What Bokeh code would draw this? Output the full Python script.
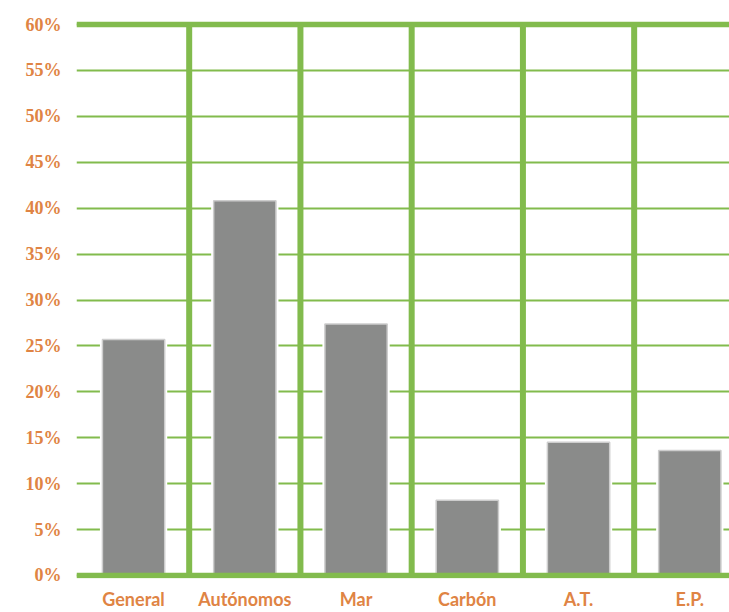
from bokeh.plotting import figure
from bokeh.models import Range1d, FixedTicker, Span, ColumnDataSource
from bokeh.embed import file_html
from bokeh.resources import INLINE

categories = ["General", "Autónomos", "Mar", "Carbón", "A.T.", "E.P."]
values = [25.7, 40.8, 27.4, 8.2, 14.5, 13.6]
y_ticks = [0, 5, 10, 15, 20, 25, 30, 35, 40, 45, 50, 55, 60]
y_labels = ["0%", "5%", "10%", "15%", "20%", "25%", "30%", "35%", "40%", "45%", "50%", "55%", "60%"]

GREEN = "#82BB4D"
ORANGE = "#DF8444"
GRAY = "#8A8B8A"

xs = [i + 0.5 for i in range(len(categories))]
bounds = [i for i in range(1, len(categories))]
src = ColumnDataSource(dict(x=xs, top=values))

p = figure(width=729, height=612, output_backend="svg", toolbar_location=None,
           x_range=Range1d(-0.013, 5.857), y_range=Range1d(-0.327, 60.436),
           min_border_left=76, min_border_right=0, min_border_top=20, min_border_bottom=34,
           background_fill_color="white", border_fill_color="white")
p.outline_line_color = None

# grid
p.xgrid.grid_line_color = None
p.ygrid.ticker = FixedTicker(ticks=y_ticks)
p.ygrid.grid_line_color = GREEN
p.ygrid.grid_line_width = 2.2

for v in (y_ticks[0], y_ticks[-1]):
    p.add_layout(Span(location=v, dimension="width", line_color=GREEN, line_width=5.5))

p.segment(x0=bounds, y0=y_ticks[0], x1=bounds, y1=y_ticks[-1], line_color=GREEN, line_width=6)

# bars
p.vbar(x="x", top="top", bottom=0, width=0.56, source=src, fill_color="white",
       line_color="white", line_width=5)
p.vbar(x="x", top="top", bottom=0, width=0.56, source=src, fill_color=GRAY,
       line_color="#cdcdcd", line_width=1.5)

# axes
p.yaxis.ticker = FixedTicker(ticks=y_ticks)
p.yaxis.major_label_overrides = {t: l for t, l in zip(y_ticks, y_labels)}
p.yaxis.axis_line_color = None
p.yaxis.major_tick_line_color = None
p.yaxis.minor_tick_line_color = None
p.yaxis.major_label_standoff = 9
p.yaxis.major_label_text_font = "Liberation Serif"
p.yaxis.major_label_text_font_style = "bold"
p.yaxis.major_label_text_font_size = "18px"
p.yaxis.major_label_text_color = ORANGE

p.xaxis.ticker = FixedTicker(ticks=xs)
p.xaxis.major_label_overrides = {x: c for x, c in zip(xs, categories)}
p.xaxis.axis_line_color = None
p.xaxis.major_tick_line_color = None
p.xaxis.minor_tick_line_color = None
p.xaxis.major_label_standoff = 3
p.xaxis.major_label_text_font = "Lato"
p.xaxis.major_label_text_font_style = "bold"
p.xaxis.major_label_text_font_size = "18px"
p.xaxis.major_label_text_color = ORANGE

open("out.html", "w").write(file_html(p, INLINE))
